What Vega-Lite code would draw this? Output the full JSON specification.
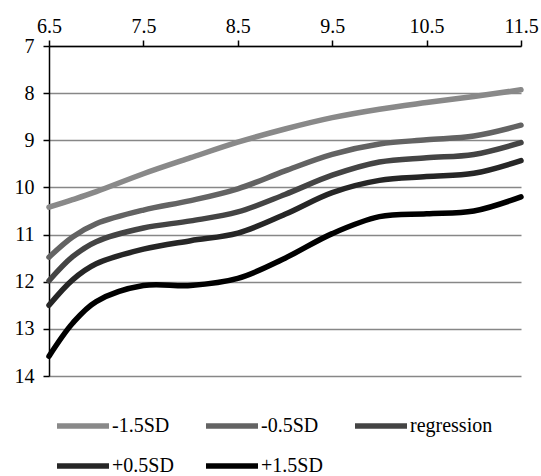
{
  "$schema": "https://vega.github.io/schema/vega-lite/v6.json",
  "width": 472,
  "height": 330,
  "autosize": "none",
  "padding": {"left": 49, "top": 46, "right": 20, "bottom": 100},
  "background": "white",
  "config": {
    "view": {"stroke": null},
    "font": "Liberation Serif"
  },
  "data": {
    "values": [
      {"series": "-1.5SD", "x": 6.5, "y": 10.42},
      {"series": "-1.5SD", "x": 6.75, "y": 10.26},
      {"series": "-1.5SD", "x": 7.0, "y": 10.09},
      {"series": "-1.5SD", "x": 7.5, "y": 9.71},
      {"series": "-1.5SD", "x": 8.0, "y": 9.37},
      {"series": "-1.5SD", "x": 8.5, "y": 9.04},
      {"series": "-1.5SD", "x": 9.0, "y": 8.76},
      {"series": "-1.5SD", "x": 9.5, "y": 8.52},
      {"series": "-1.5SD", "x": 10.0, "y": 8.34},
      {"series": "-1.5SD", "x": 10.5, "y": 8.20},
      {"series": "-1.5SD", "x": 11.0, "y": 8.07},
      {"series": "-1.5SD", "x": 11.5, "y": 7.93},
      {"series": "-0.5SD", "x": 6.5, "y": 11.48},
      {"series": "-0.5SD", "x": 6.75, "y": 11.05},
      {"series": "-0.5SD", "x": 7.0, "y": 10.77},
      {"series": "-0.5SD", "x": 7.5, "y": 10.48},
      {"series": "-0.5SD", "x": 8.0, "y": 10.28},
      {"series": "-0.5SD", "x": 8.5, "y": 10.03},
      {"series": "-0.5SD", "x": 9.0, "y": 9.65},
      {"series": "-0.5SD", "x": 9.5, "y": 9.30},
      {"series": "-0.5SD", "x": 10.0, "y": 9.08},
      {"series": "-0.5SD", "x": 10.5, "y": 8.99},
      {"series": "-0.5SD", "x": 11.0, "y": 8.91},
      {"series": "-0.5SD", "x": 11.5, "y": 8.68},
      {"series": "regression", "x": 6.5, "y": 11.98},
      {"series": "regression", "x": 6.75, "y": 11.47},
      {"series": "regression", "x": 7.0, "y": 11.15},
      {"series": "regression", "x": 7.5, "y": 10.86},
      {"series": "regression", "x": 8.0, "y": 10.71},
      {"series": "regression", "x": 8.5, "y": 10.52},
      {"series": "regression", "x": 9.0, "y": 10.15},
      {"series": "regression", "x": 9.5, "y": 9.74},
      {"series": "regression", "x": 10.0, "y": 9.46},
      {"series": "regression", "x": 10.5, "y": 9.37},
      {"series": "regression", "x": 11.0, "y": 9.30},
      {"series": "regression", "x": 11.5, "y": 9.05},
      {"series": "+0.5SD", "x": 6.5, "y": 12.5},
      {"series": "+0.5SD", "x": 6.75, "y": 11.96},
      {"series": "+0.5SD", "x": 7.0, "y": 11.62},
      {"series": "+0.5SD", "x": 7.5, "y": 11.31},
      {"series": "+0.5SD", "x": 8.0, "y": 11.13},
      {"series": "+0.5SD", "x": 8.5, "y": 10.97},
      {"series": "+0.5SD", "x": 9.0, "y": 10.57},
      {"series": "+0.5SD", "x": 9.5, "y": 10.11},
      {"series": "+0.5SD", "x": 10.0, "y": 9.85},
      {"series": "+0.5SD", "x": 10.5, "y": 9.77},
      {"series": "+0.5SD", "x": 11.0, "y": 9.70},
      {"series": "+0.5SD", "x": 11.5, "y": 9.43},
      {"series": "+1.5SD", "x": 6.5, "y": 13.58},
      {"series": "+1.5SD", "x": 6.75, "y": 12.88},
      {"series": "+1.5SD", "x": 7.0, "y": 12.42},
      {"series": "+1.5SD", "x": 7.5, "y": 12.08},
      {"series": "+1.5SD", "x": 8.0, "y": 12.08},
      {"series": "+1.5SD", "x": 8.5, "y": 11.93},
      {"series": "+1.5SD", "x": 9.0, "y": 11.50},
      {"series": "+1.5SD", "x": 9.5, "y": 10.98},
      {"series": "+1.5SD", "x": 10.0, "y": 10.62},
      {"series": "+1.5SD", "x": 10.5, "y": 10.56},
      {"series": "+1.5SD", "x": 11.0, "y": 10.50},
      {"series": "+1.5SD", "x": 11.5, "y": 10.2}
    ]
  },
  "mark": {"type": "line", "interpolate": "catmull-rom", "strokeWidth": 5.5, "strokeCap": "round", "strokeJoin": "round"},
  "encoding": {
    "x": {
      "field": "x",
      "type": "quantitative",
      "scale": {"domain": [6.5, 11.5], "nice": false, "zero": false},
      "axis": {
        "orient": "top",
        "title": null,
        "values": [6.5, 7.5, 8.5, 9.5, 10.5, 11.5],
        "grid": false,
        "domainColor": "black",
        "domainWidth": 1.5,
        "tickColor": "black",
        "tickWidth": 1.5,
        "tickSize": 6,
        "labelFont": "Liberation Serif",
        "labelFontSize": 20,
        "labelColor": "black",
        "labelPadding": 4,
        "labelFlush": false,
        "format": ".1f"
      }
    },
    "y": {
      "field": "y",
      "type": "quantitative",
      "scale": {"domain": [7, 14], "nice": false, "zero": false, "reverse": true},
      "axis": {
        "title": null,
        "values": [7, 8, 9, 10, 11, 12, 13, 14],
        "grid": true,
        "gridColor": "#878787",
        "gridWidth": 1.5,
        "domainColor": "black",
        "domainWidth": 1.5,
        "tickColor": "black",
        "tickWidth": 1.5,
        "tickSize": 6,
        "labelFont": "Liberation Serif",
        "labelFontSize": 20,
        "labelColor": "black",
        "labelPadding": 9,
        "labelFlush": false
      }
    },
    "color": {
      "field": "series",
      "type": "nominal",
      "sort": ["-1.5SD", "-0.5SD", "regression", "+0.5SD", "+1.5SD"],
      "scale": {
        "domain": ["-1.5SD", "-0.5SD", "regression", "+0.5SD", "+1.5SD"],
        "range": ["#898989", "#636363", "#444444", "#262626", "#000000"]
      },
      "legend": {
        "title": null,
        "orient": "none",
        "legendX": 5,
        "legendY": 351,
        "direction": "horizontal",
        "columns": 3,
        "gridAlign": "all",
        "columnPadding": 0,
        "rowPadding": 0,
        "symbolType": "stroke",
        "symbolSize": 2704,
        "symbolStrokeWidth": 5.5,
        "labelFont": "Liberation Serif",
        "labelFontSize": 20,
        "labelColor": "black",
        "labelOffset": 0,
        "labelLimit": 200
      }
    }
  }
}
